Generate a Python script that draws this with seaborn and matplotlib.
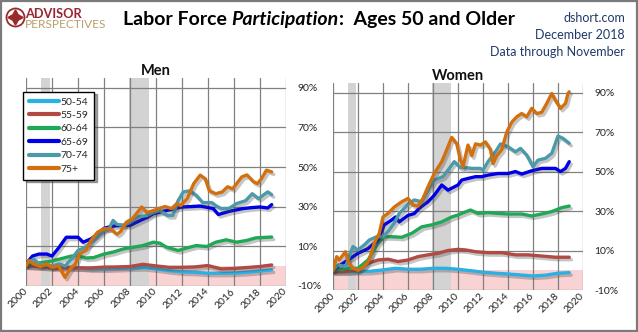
import matplotlib
matplotlib.use('Agg')
import matplotlib.pyplot as plt
import matplotlib.patheffects as pe
from matplotlib.lines import Line2D
from matplotlib.patches import Rectangle
import seaborn as sns
import pandas as pd

# ---------------- data ----------------
groups = ['50-54', '55-59', '60-64', '65-69', '70-74', '75+']
colors = ['#2bb0e4', '#b04a42', '#1fa855', '#0000e6', '#4b9aa8', '#d2700f']

yrs_annual = [2000, 2001, 2002, 2003, 2004, 2005, 2006, 2007, 2008, 2009,
              2010, 2011, 2012, 2013, 2014, 2015, 2016, 2017, 2018, 2018.9]

# Men
men_5054_x = yrs_annual
men_5054_y = [0, -0.3, -0.5, -0.5, -0.8, -1.5, -1.5, -1.3, -1.0, -0.8,
              -1.5, -2.4, -3.0, -3.2, -3.7, -3.7, -3.6, -3.2, -2.6, -2.0]
men_5559_x = yrs_annual
men_5559_y = [0, -0.3, -1, -1, -1, -1, -0.6, -0.5, -0.3, 0.8,
              0, -0.7, -0.7, -0.5, 0.2, -1.5, -1.3, -0.8, -0.3, 0.5]
men_6064_x = [2000, 2001, 2002, 2002.9, 2003.5, 2004, 2004.6, 2005.2, 2006, 2006.7,
              2007.5, 2008.3, 2009, 2009.8, 2010.3, 2010.8, 2011.7, 2012.4, 2013.1,
              2013.9, 2014.6, 2015.4, 2016.2, 2017, 2017.7, 2018.9]
men_6064_y = [0.7, 1.5, 2.5, 4.0, 5.0, 5.2, 4.0, 4.2, 6.0, 7.0,
              8.6, 9.5, 10.3, 12.0, 11.5, 9.5, 7.8, 9.1, 10.3,
              9.8, 12.0, 13.2, 12.0, 12.9, 14.2, 14.6]
men_6569_x = [2000, 2000.5, 2001, 2001.6, 2002, 2002.5, 2003.1, 2003.6, 2004, 2004.4,
              2005, 2005.5, 2006, 2006.6, 2007.2, 2008, 2008.8, 2009.3, 2009.8, 2010.8,
              2012, 2012.7, 2013.4, 2014.4, 2014.8, 2015.7, 2016.7, 2017.4, 2018,
              2018.6, 2018.9]
men_6569_y = [1, 5, 6, 6, 5, 9, 14.5, 14.5, 14.5, 12,
              13.7, 16, 19, 20, 20.5, 20.5, 23, 24.5, 26.4, 28,
              29.8, 30, 30.3, 29, 26, 27.7, 29, 29.5, 29.8,
              29.3, 31]
men_7074_x = [2000, 2000.6, 2001, 2002, 2002.6, 2003, 2003.5, 2004, 2004.6, 2005.2,
              2006, 2006.4, 2006.7, 2007, 2007.5, 2008, 2008.5, 2009.3, 2009.8, 2010.3,
              2010.9, 2011.3, 2011.7, 2012.1, 2012.6, 2013.1, 2013.6, 2014.3, 2014.6,
              2015, 2015.6, 2016.2, 2016.9, 2017.4, 2017.6, 2017.9, 2018.4, 2018.6, 2018.9]
men_7074_y = [1, 3.5, 1, 0, 1, 0, 3.5, 7.8, 9.5, 12.9,
              18, 19, 23, 21, 20.5, 22, 24.7, 25.5, 27, 28,
              25.5, 25.5, 33, 37.4, 38, 35.7, 32, 32, 30.5,
              29, 29, 31.5, 33, 36.5, 35.5, 34, 36.5, 37.4, 36]
men_75p_x = [2000, 2000.2, 2000.6, 2001.1, 2001.6, 2002, 2002.5, 2003, 2003.4, 2003.8,
             2004.1, 2004.6, 2005, 2005.5, 2006, 2006.5, 2007, 2007.3, 2007.7, 2008.2,
             2008.9, 2009.3, 2009.8, 2010.2, 2010.7, 2011.2, 2011.6, 2011.9, 2012.4,
             2012.9, 2013.4, 2013.8, 2014.1, 2014.6, 2015.1, 2015.5, 2015.9, 2016.6,
             2017, 2017.5, 2017.8, 2018.1, 2018.5, 2018.9]
men_75p_y = [0, 2.7, 1, -0.3, 1, -0.7, 0, -5.8, -1.5, 1,
             6, 7.8, 12.9, 17, 18.8, 18.8, 16, 17.5, 22, 24,
             29.8, 27, 28, 29, 30, 29, 31.5, 30.5, 34,
             41.6, 45.9, 44, 38, 36.5, 37.4, 40, 39, 45,
             46, 42.6, 41.6, 44, 48.4, 47.5]

# Women
wom_5054_x = yrs_annual
wom_5054_y = [-0.7, -0.7, -0.7, -0.5, 0.2, 1, 0.5, 0.5, 1, 1,
              0.5, -0.2, -1.0, -1.5, -1.9, -2.4, -2.9, -2.5, -1.5, -1.2]
wom_5559_x = [2000, 2001, 2002, 2002.8, 2003.6, 2004.4, 2005.2, 2006, 2006.8, 2007.6,
              2008.4, 2009.2, 2010, 2010.6, 2011.4, 2012.4, 2013.5, 2014.6, 2015.6,
              2016.7, 2017.8, 2018.9]
wom_5559_y = [-0.7, -0.7, 0, 3.5, 5.2, 5.6, 4.4, 5.2, 6.9, 7.8,
              8.6, 10, 10.6, 10.3, 9.4, 8.9, 8.9, 7.8, 7.8,
              7.2, 6.6, 6.6]
wom_6064_x = [2000, 2001.2, 2002, 2002.8, 2003.6, 2004.1, 2004.7, 2005.5, 2006.3, 2007.1,
              2007.9, 2008.7, 2009.5, 2010, 2010.3, 2011, 2011.6, 2012.4, 2013.2, 2014,
              2015.1, 2015.9, 2016.7, 2017.5, 2018.3, 2018.9]
wom_6064_y = [0, 1, 1, 5.2, 13.7, 17, 17, 16.7, 18.7, 22,
              23, 24.5, 27, 28, 28.8, 30.5, 28.8, 29.2, 28.8, 28.5,
              28.5, 27.5, 28.5, 29.7, 31.7, 32.5]
wom_6569_x = [2000, 2000.4, 2001.2, 2002, 2002.8, 2003.6, 2004.1, 2004.7, 2005, 2005.3,
              2006, 2006.5, 2006.9, 2007.6, 2008.1, 2008.7, 2009.2, 2010, 2010.3, 2010.8,
              2011.4, 2011.9, 2012.4, 2013.2, 2014, 2014.6, 2015.1, 2015.9, 2016.7,
              2017.2, 2017.8, 2018.2, 2018.6, 2018.9]
wom_6569_y = [0, 1.9, 5.2, 8.6, 11, 15.3, 23, 25.5, 27, 24.5,
              27.8, 28.7, 31.4, 34.7, 38, 43.2, 40.6, 43.2, 45.7, 46.5,
              47.4, 47.4, 48.2, 49, 49, 50, 48.7, 50.4, 51.6,
              51.6, 51.6, 50, 51.6, 55]
wom_7074_x = [2000, 2000.4, 2001, 2001.6, 2002, 2002.5, 2002.9, 2003.5, 2004, 2004.4,
              2004.9, 2005.3, 2005.7, 2006.1, 2006.5, 2007.1, 2007.6, 2008.1, 2008.8,
              2009.2, 2009.7, 2010.2, 2010.6, 2011.1, 2011.8, 2012, 2012.4, 2013, 2013.4,
              2014, 2014.6, 2015, 2015.5, 2016, 2016.4, 2017, 2017.5, 2018, 2018.4, 2018.9]
wom_7074_y = [0, 2.7, 1.9, 12, 10.3, 12.8, 15.3, 17, 17, 19.6,
              23.8, 28.8, 31.4, 33.9, 35.6, 34.7, 40.6, 45.7, 47.4,
              50.7, 55, 52, 52, 51.6, 51.6, 50.7, 55, 60, 64,
              62.6, 60, 61.7, 58.3, 52.4, 55.8, 56.7, 59.2, 68, 66.8, 64.3]
wom_75p_x = [2000, 2000.3, 2000.5, 2001, 2001.2, 2001.6, 2002, 2002.5, 2002.9, 2003.3,
             2003.7, 2004, 2004.4, 2004.9, 2005.5, 2006, 2006.4, 2006.8, 2007.2, 2007.6,
             2008.1, 2008.7, 2009.1, 2009.5, 2009.9, 2010.2, 2010.4, 2010.8, 2011.1,
             2011.4, 2011.8, 2012.2, 2012.6, 2012.8, 2013.1, 2013.5, 2013.9, 2014.3,
             2014.7, 2015.1, 2015.5, 2015.9, 2016.3, 2016.7, 2017.1, 2017.5, 2017.8,
             2018.2, 2018.6, 2018.8, 2018.9]
wom_75p_y = [0, 6.9, 5.2, 9.4, 4.4, 1, 0, 1.9, 5.2, 13.7,
             18.7, 27, 28.8, 32, 34.7, 36.4, 33, 32.5, 36.4, 42.3,
             49, 55, 61, 67.3, 64, 55.8, 52.4, 63.4, 58,
             64, 63.4, 65, 61, 54, 58, 61, 70, 75,
             77.7, 79.4, 77.7, 82, 79.4, 80, 84.5, 89.5, 86,
             82, 84.5, 89.5, 90.4]

recessions = [(2001.17, 2001.83), (2007.92, 2009.45)]
x_ticks = list(range(2000, 2021, 2))
y_ticks = [-10, 10, 30, 50, 70, 90]

men_series = [(men_5054_x, men_5054_y), (men_5559_x, men_5559_y), (men_6064_x, men_6064_y),
              (men_6569_x, men_6569_y), (men_7074_x, men_7074_y), (men_75p_x, men_75p_y)]
wom_series = [(wom_5054_x, wom_5054_y), (wom_5559_x, wom_5559_y), (wom_6064_x, wom_6064_y),
              (wom_6569_x, wom_6569_y), (wom_7074_x, wom_7074_y), (wom_75p_x, wom_75p_y)]


def to_frame(series):
    rows = []
    for g, (xs, ys) in zip(groups, series):
        for x, y in zip(xs, ys):
            rows.append((x, y, g))
    return pd.DataFrame(rows, columns=['year', 'value', 'group'])


# ---------------- style ----------------
sns.set_theme(style='white')
plt.rcParams['font.family'] = ['Lato', 'DejaVu Sans']

W, H = 638, 332
fig = plt.figure(figsize=(W / 100, H / 100), dpi=100)
fig.patch.set_facecolor('white')

palette = dict(zip(groups, colors))


def px_axes(left, top, right, bottom):
    return fig.add_axes([left / W, (H - bottom) / H, (right - left) / W, (bottom - top) / H])


ax_m = px_axes(26, 78, 286, 285.7)
ax_w = px_axes(333, 82.7, 583, 290)

for ax, series, title in [(ax_m, men_series, 'Men'), (ax_w, wom_series, 'Women')]:
    df = to_frame(series)
    ax.axhspan(-10, 0, color='#f9d3d3', zorder=0.1, lw=0)
    for a, b in recessions:
        ax.axvspan(a, b, color='#d3d3d3', zorder=0.2, lw=0)
    sns.lineplot(data=df, x='year', y='value', hue='group', hue_order=groups,
                 palette=palette, estimator=None, sort=True, linewidth=2.4,
                 legend=False, ax=ax)
    for ln in ax.lines:
        ln.set_solid_joinstyle('round')
        ln.set_solid_capstyle('round')
        ln.set_path_effects([pe.SimpleLineShadow(offset=(1.5, -1.8), shadow_color='#404040', alpha=0.3),
                             pe.Normal()])
    ax.set_xlim(2000, 2020)
    ax.set_ylim(-10, 95)
    ax.set_xticks(x_ticks)
    ax.set_yticks(y_ticks)
    ax.set_yticklabels([f'{v}%' for v in y_ticks])
    ax.set_axisbelow(True)
    ax.grid(True, color='#808080', linewidth=0.9)
    for s in ax.spines.values():
        s.set_visible(False)
    ax.yaxis.tick_right()
    ax.tick_params(axis='y', length=0, pad=8, labelsize=7.5, labelcolor='#222222')
    ax.tick_params(axis='x', length=0, pad=3, labelsize=7.5, labelcolor='#222222')
    for lab in ax.get_xticklabels():
        lab.set_rotation(45)
        lab.set_ha('right')
        lab.set_va('center')
        lab.set_rotation_mode('anchor')
    ax.set_xlabel('')
    ax.set_ylabel('')
    ax.set_title(title, fontsize=10.5, fontweight='bold', pad=2, color='#111111')

# legend
handles = [Line2D([0], [0], color=c, lw=3) for c in colors]
leg = ax_m.legend(handles, groups, loc='upper left', bbox_to_anchor=(-0.012, 0.935),
                  frameon=True, fancybox=False, shadow=True, edgecolor='black',
                  framealpha=1, fontsize=7.5, handlelength=2.9, handletextpad=0.15,
                  labelspacing=0.4, borderpad=0.55, borderaxespad=0)
leg.get_frame().set_linewidth(1.0)
leg.set_zorder(10)

# main title with italic piece
pieces = [('Labor Force ', 'normal'), ('Participation', 'italic'), (':  Ages 50 and Older', 'normal')]
texts = []
for s, st in pieces:
    texts.append(fig.text(0, 0, s, fontsize=14, fontweight='bold', style=st,
                          color='black', va='baseline', ha='left'))
renderer = fig.canvas.get_renderer()
widths = [t.get_window_extent(renderer).width for t in texts]
total = sum(widths)
x0 = 319 - total / 2
base_y = (H - 25) / H
for t, w in zip(texts, widths):
    t.set_position((x0 / W, base_y))
    x0 += w

# logo
fig.lines.append(Line2D([15 / W], [(H - 17) / H], marker='o', markersize=13,
                        markerfacecolor='white', markeredgecolor='#9b2a2a', markeredgewidth=1.3,
                        transform=fig.transFigure))
fig.lines.append(Line2D([15 / W], [(H - 17) / H], marker=(4, 1, 0), markersize=11,
                        color='#9b2a2a', transform=fig.transFigure))
fig.text(25 / W, (H - 18) / H, 'ADVISOR', fontsize=9.2, fontweight='bold', color='#9a2430',
         va='baseline', ha='left')
fig.text(25 / W, (H - 27.5) / H, 'PERSPECTIVES', fontsize=8.6, fontweight='normal',
         color='#b8a06a', va='baseline', ha='left')

# right texts
for txt, yb in [('dshort.com', 22), ('December 2018', 39), ('Data through November', 56)]:
    fig.text(625 / W, (H - yb) / H, txt, fontsize=9, color='#1f3a68', va='baseline', ha='right')

# border
fig.patches.append(Rectangle((0.001, 0.002), 0.997, 0.995, transform=fig.transFigure,
                             fill=False, edgecolor='#7a7a7a', lw=1.6))

fig.savefig('out.png', dpi=100)
